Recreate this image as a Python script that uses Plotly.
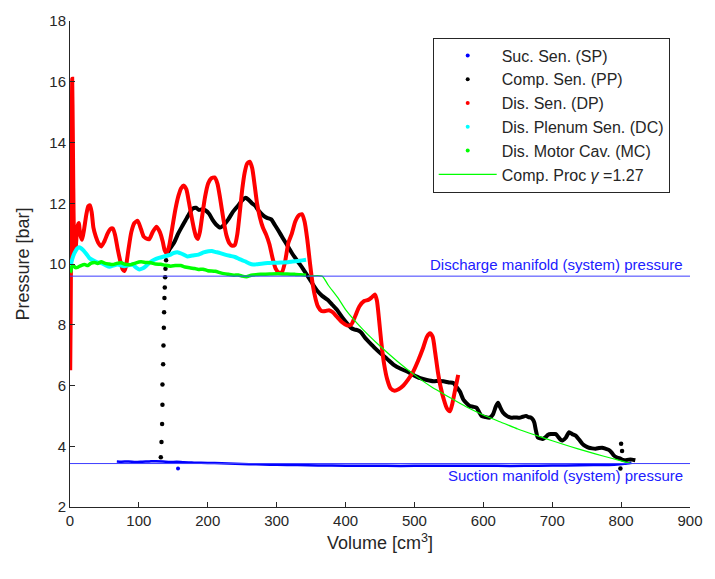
import plotly.graph_objects as go

# ---------------- data ----------------
# Suction sensor (SP)
sp_vol = [68, 75, 85, 95, 105, 115, 125, 135, 145, 155, 165, 180, 200, 220, 240, 260,
          280, 300, 330, 360, 400, 440, 480, 520, 560, 600, 640, 680, 720, 760, 790, 805, 815]
sp_p = [3.50, 3.49, 3.50, 3.48, 3.49, 3.50, 3.51, 3.50, 3.48, 3.49, 3.47, 3.46, 3.45, 3.44,
        3.42, 3.41, 3.40, 3.39, 3.38, 3.37, 3.36, 3.36, 3.35, 3.36, 3.36, 3.36, 3.35, 3.36,
        3.37, 3.38, 3.39, 3.42, 3.46]
sp_out_vol = [156.8]
sp_out_p = [3.27]

# Compression sensor (PP): pressure rise samples and scattered samples near the end
pp_rise_vol = [131.8, 132.8, 133.7, 134.2, 134.2, 135.2, 135.7, 136.2, 136.6, 137.1, 137.6,
               138.1, 138.6, 139.5, 800.0, 801.4, 799.0]
pp_rise_p = [3.64, 4.14, 4.73, 5.37, 6.03, 6.70, 7.32, 7.90, 8.41, 8.88, 9.23, 9.56, 9.84,
             10.12, 4.08, 3.84, 3.27]
pp_vol = [140.5, 145, 151, 157, 163, 168, 173, 178, 183, 187, 192, 197, 202, 207, 212, 218,
          223, 229.8, 236, 244.2, 250, 255, 259, 264, 268.3, 274, 280.3, 286, 292.2, 297, 302,
          309, 316.3, 323, 330.7, 338, 345.1, 352, 359.5, 366, 373.9, 381, 388.3, 395, 402.7,
          408, 412.4, 417, 421.9, 429, 436.3, 443, 450.7, 460, 470, 480, 489.2, 498, 508.4,
          518, 527.7, 535, 542, 550, 556.5, 561.2, 566, 570.9, 575.5, 580.4, 585, 590, 594,
          597.3, 603, 609.2, 614, 618, 621.3, 624.5, 628.5, 634, 640.5, 646, 652.4, 657, 662,
          665.5, 669.3, 672, 674, 676.5, 679, 682.5, 686.2, 690.5, 694, 698.1, 702, 705.3,
          709, 712, 715, 719.7, 724.5, 729, 734.1, 739, 743.8, 748.6, 753.3, 758, 763, 768,
          772.6, 777, 782.1, 786, 789.3, 794, 799, 803, 806.2, 811, 815.9, 820.6]
pp_p = [10.30, 10.50, 10.70, 11.00, 11.25, 11.45, 11.65, 11.82, 11.85, 11.78, 11.80, 11.76,
        11.65, 11.45, 11.30, 11.20, 11.28, 11.47, 11.70, 11.93, 12.10, 12.18, 12.12, 12.00,
        11.93, 11.75, 11.60, 11.52, 11.47, 11.30, 11.12, 10.85, 10.58, 10.33, 10.08, 9.85,
        9.60, 9.35, 9.10, 8.95, 8.82, 8.65, 8.47, 8.25, 8.03, 7.90, 7.85, 7.82, 7.76, 7.55,
        7.38, 7.22, 7.06, 6.88, 6.68, 6.55, 6.46, 6.35, 6.24, 6.18, 6.14, 6.15, 6.14, 6.10,
        6.08, 5.95, 5.80, 5.54, 5.42, 5.32, 5.30, 5.27, 5.12, 5.00, 4.96, 4.94, 5.05, 5.30,
        5.43, 5.28, 5.11, 5.00, 4.94, 4.95, 4.94, 4.97, 5.00, 4.96, 4.94, 4.88, 4.78, 4.50,
        4.29, 4.26, 4.24, 4.30, 4.38, 4.40, 4.40, 4.40, 4.30, 4.22, 4.19, 4.28, 4.46, 4.40,
        4.35, 4.22, 4.08, 4.00, 3.95, 3.93, 3.92, 3.94, 3.95, 3.92, 3.88, 3.80, 3.70, 3.63,
        3.59, 3.55, 3.54, 3.56, 3.56, 3.54]

# Discharge sensor (DP)
dp_vol = [0.3, 1.0, 1.8, 2.5, 3.2, 4.0, 4.8, 5.6, 6.8, 8.5, 10.5, 12.7, 15.0, 17.6, 20.5,
          23.5, 26.5, 29.0, 31.5, 34.0, 37.5, 41.0, 45.4, 50.0, 54.5, 58.5, 62.2, 65.5, 69.4,
          73.5, 76.5, 79.0, 81.5, 85.0, 89.0, 93.5, 98.3, 103.0, 107.0, 110.0, 115.0, 120.0,
          125.6, 130.5, 134.5, 137.5, 140.5, 144.0, 148.5, 153.0, 157.5, 161.5, 165.4, 169.0,
          172.5, 176.5, 180.0, 183.0, 185.6, 188.5, 192.0, 196.0, 200.5, 205.0, 209.7, 214.0,
          218.0, 222.5, 227.0, 231.5, 235.5, 239.4, 243.0, 246.5, 250.0, 253.5, 257.0, 261.0,
          264.5, 268.0, 271.5, 275.5, 280.0, 285.0, 289.5, 294.0, 298.5, 303.0, 307.6, 312.0,
          317.0, 322.0, 327.0, 332.0, 336.5, 340.5, 344.5, 348.5, 352.5, 356.5, 360.0, 365.0,
          371.0, 376.0, 381.0, 388.0, 395.0, 402.0, 408.0, 414.0, 420.0, 427.0, 433.0, 438.0,
          442.5, 445.5, 448.5, 452.0, 456.0, 460.5, 465.5, 471.0, 477.0, 484.0, 491.0, 498.0,
          505.0, 512.0, 518.0, 522.5, 526.5, 530.0, 534.0, 538.0, 542.5, 547.0, 551.5, 555.0,
          559.0, 563.5]
dp_p = [6.50, 8.50, 11.50, 14.20, 16.10, 14.50, 12.50, 11.00, 10.40, 10.60, 11.20, 11.35,
        10.95, 10.80, 11.15, 11.60, 11.90, 11.93, 11.70, 11.20, 10.90, 10.70, 10.58, 10.75,
        11.00, 11.15, 11.17, 10.95, 10.47, 10.05, 9.82, 9.77, 9.95, 10.50, 11.05, 11.35,
        11.42, 11.15, 10.90, 10.85, 10.82, 11.05, 11.23, 11.05, 10.75, 10.45, 10.36, 10.60,
        11.20, 11.80, 12.25, 12.50, 12.58, 12.45, 12.05, 11.55, 11.15, 10.90, 10.82, 11.05,
        11.60, 12.20, 12.65, 12.82, 12.85, 12.65, 12.15, 11.50, 10.95, 10.68, 10.60, 10.63,
        11.00, 11.70, 12.45, 13.00, 13.30, 13.37, 13.15, 12.60, 12.00, 11.55, 11.20, 10.95,
        10.65, 10.20, 9.85, 9.72, 9.73, 10.05, 10.70, 11.00, 11.40, 11.60, 11.64, 11.40,
        10.80, 10.00, 9.30, 8.85, 8.60, 8.45, 8.45, 8.48, 8.42, 8.25, 8.08, 7.98, 8.00, 8.28,
        8.60, 8.78, 8.82, 8.90, 9.00, 8.80, 8.20, 7.40, 6.70, 6.20, 5.90, 5.83, 5.88, 6.00,
        6.20, 6.45, 6.80, 7.20, 7.60, 7.72, 7.60, 7.10, 6.45, 5.95, 5.55, 5.25, 5.15, 5.40,
        5.85, 6.35]

# Discharge plenum sensor (DC)
dc_vol = [0.5, 2, 4.5, 7, 10, 13, 16, 19.5, 23.8, 28, 33.4, 39, 45.4, 51, 57.4, 63, 69.4, 74,
          79, 85, 91, 96, 100.6, 105, 110.2, 116, 122.2, 129, 136.6, 145, 150, 155.9, 163,
          170.3, 178, 186.6, 194, 201, 206, 210.7, 218, 225, 232, 239.5, 247, 253.9, 260,
          265.9, 271, 277.8, 287, 297.1, 306, 316.3, 323, 330.7, 337, 342.7]
dc_p = [9.85, 10.05, 10.25, 10.38, 10.50, 10.55, 10.52, 10.45, 10.33, 10.20, 10.12, 10.06,
        10.03, 9.97, 9.91, 9.95, 9.98, 9.95, 9.93, 9.96, 9.98, 9.88, 9.82, 9.85, 9.93, 10.05,
        10.14, 10.20, 10.25, 10.30, 10.36, 10.39, 10.33, 10.25, 10.28, 10.31, 10.38, 10.42,
        10.43, 10.40, 10.36, 10.31, 10.27, 10.23, 10.15, 10.09, 10.02, 9.98, 9.99, 10.01,
        10.03, 10.04, 10.05, 10.06, 10.08, 10.10, 10.12, 10.14]

# Discharge motor cavity sensor (MC)
mc_vol = [0.3, 1.2, 2.5, 5, 8, 11.8, 16, 21.3, 26, 30, 35.7, 40, 45.4, 50, 56, 62.2, 68, 74.2,
          80, 88.6, 95, 103, 110, 117.4, 124, 131.8, 138, 146.3, 153, 160.7, 167, 175, 181,
          186.6, 193, 200, 210.7, 220, 229.8, 238, 244.2, 250, 256.2, 263, 270, 277.8, 290,
          301.9, 315, 325.9, 335, 342.7]
mc_p = [9.72, 9.75, 9.90, 9.95, 9.88, 9.90, 9.95, 9.98, 9.95, 10.02, 10.05, 10.02, 10.07,
        10.03, 10.00, 9.98, 10.02, 10.04, 9.99, 9.98, 10.03, 10.07, 10.05, 10.04, 10.00, 9.99,
        9.96, 9.93, 9.95, 9.95, 9.90, 9.87, 9.85, 9.82, 9.83, 9.78, 9.76, 9.70, 9.66, 9.63,
        9.64, 9.60, 9.58, 9.63, 9.65, 9.66, 9.67, 9.68, 9.67, 9.66, 9.65, 9.63]

# Compression process, polytropic exponent 1.27
proc_vol = [345, 366, 375, 390, 400, 425, 450, 475, 500, 525, 550, 575, 600, 625, 650, 675,
            700, 725, 750, 775, 800, 815]
proc_p = [9.60, 9.60, 9.30, 8.85, 8.50, 7.85, 7.30, 6.80, 6.35, 5.95, 5.62, 5.30, 5.03, 4.80,
          4.57, 4.37, 4.18, 4.00, 3.83, 3.67, 3.52, 3.43]

# System manifold pressures
discharge_manifold_p = 9.6
suction_manifold_p = 3.43

legend_names = ["Suc. Sen. (SP)", "Comp. Sen. (PP)", "Dis. Sen. (DP)",
                "Dis. Plenum Sen. (DC)", "Dis. Motor Cav. (MC)"]
legend_colors = ["#0000ff", "#000000", "#ff0000", "#00ffff", "#00ff00"]
proc_name = "Comp. Proc <i>γ</i> =1.27"

x_ticks = [0, 100, 200, 300, 400, 500, 600, 700, 800, 900]
y_ticks = [2, 4, 6, 8, 10, 12, 14, 16, 18]

# ---------------- figure ----------------
FONT = "Liberation Sans, Arial, Helvetica, sans-serif"
AX = "#262626"

fig = go.Figure()


def dense(vol, p, color, width):
    fig.add_trace(go.Scatter(
        x=vol, y=p, mode="lines",
        line=dict(color=color, width=width, shape="spline", smoothing=0.6),
        showlegend=False, hoverinfo="skip"))


def dots(vol, p, color, size):
    fig.add_trace(go.Scatter(
        x=vol, y=p, mode="markers",
        marker=dict(color=color, size=size, line=dict(width=0)),
        showlegend=False, hoverinfo="skip"))


dense(sp_vol, sp_p, "#0000ff", 2.5)
dots(sp_out_vol, sp_out_p, "#0000ff", 4)
dense(pp_vol, pp_p, "#000000", 4)
dots(pp_rise_vol, pp_rise_p, "#000000", 4.5)
dense(dp_vol, dp_p, "#ff0000", 4)
dense(dc_vol, dc_p, "#00ffff", 4)
dense(mc_vol, mc_p, "#00ff00", 3.5)
fig.add_trace(go.Scatter(
    x=proc_vol, y=proc_p, mode="lines",
    line=dict(color="#00ff00", width=1.2, shape="spline", smoothing=0.5),
    showlegend=False, hoverinfo="skip"))

# legend entries
for i, (name, col) in enumerate(zip(legend_names, legend_colors)):
    fig.add_trace(go.Scatter(
        x=[None], y=[None], mode="markers", name=name, legendgroup=f"g{i}",
        marker=dict(color=col, size=4)))
fig.add_trace(go.Scatter(
    x=[None], y=[None], mode="lines", name=proc_name, legendgroup="g5",
    line=dict(color="#00ff00", width=1.2)))

# manifold reference lines
for pval in (discharge_manifold_p, suction_manifold_p):
    fig.add_trace(go.Scatter(
        x=[x_ticks[0], x_ticks[-1]], y=[pval, pval], mode="lines",
        line=dict(color="#3c3cff", width=1), showlegend=False, hoverinfo="skip"))

fig.add_annotation(x=893, y=discharge_manifold_p, xref="x", yref="y",
                   text="Discharge manifold (system) pressure", showarrow=False,
                   xanchor="right", yanchor="bottom", yshift=1,
                   font=dict(family=FONT, size=15, color="#2020ff"))
fig.add_annotation(x=893, y=suction_manifold_p, xref="x", yref="y",
                   text="Suction manifold (system) pressure", showarrow=False,
                   xanchor="right", yanchor="top", yshift=-1,
                   font=dict(family=FONT, size=15, color="#2020ff"))

axis_common = dict(showline=True, linecolor=AX, linewidth=1, ticks="inside", ticklen=5,
                   tickcolor=AX, showgrid=False, zeroline=False, mirror=False,
                   tickfont=dict(family=FONT, size=15, color=AX))

fig.update_xaxes(range=[x_ticks[0], x_ticks[-1]], tickvals=x_ticks,
                 title=dict(text="Volume [cm<sup>3</sup>]", standoff=8,
                            font=dict(family=FONT, size=18, color=AX)),
                 **axis_common)
fig.update_yaxes(range=[y_ticks[0], y_ticks[-1]], tickvals=y_ticks,
                 title=dict(text="Pressure [bar]", standoff=15,
                            font=dict(family=FONT, size=18, color=AX)),
                 **axis_common)

fig.update_layout(
    width=715, height=579,
    margin=dict(l=70, r=19, t=15, b=72),
    paper_bgcolor="white", plot_bgcolor="white",
    font=dict(family=FONT, color=AX),
    legend=dict(x=0.585, y=0.966, xanchor="left", yanchor="top",
                bgcolor="white", bordercolor=AX, borderwidth=1,
                font=dict(family=FONT, size=16, color=AX),
                itemwidth=58, traceorder="normal"),
)

fig.write_html("out.html")
